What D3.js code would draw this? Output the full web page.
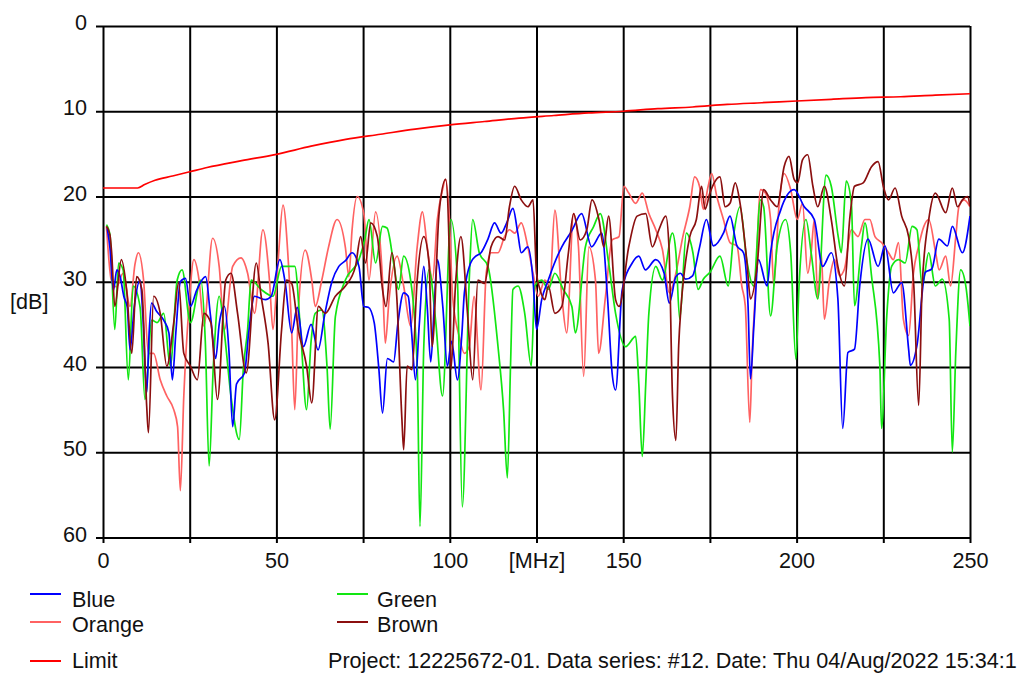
<!DOCTYPE html>
<html>
<head>
<meta charset="utf-8">
<script src="https://cdn.jsdelivr.net/npm/d3@7/dist/d3.min.js"></script>
<style>
  html, body { margin: 0; padding: 0; background: #fff; }
  svg { display: block; }
  text { font-family: "Liberation Sans", Arial, sans-serif; fill: #111; }
</style>
</head>
<body>
<svg id="chart" width="1021" height="674"></svg>
<script>
// ---------- data ----------
const yTicks = [0, 10, 20, 30, 40, 50, 60];
const xTicks = [0, 25, 50, 75, 100, 125, 150, 175, 200, 225, 250];
const xLabels = ["0", "", "50", "", "100", "[MHz]", "150", "", "200", "", "250"];
const yUnit = "[dB]";
const footer = "Project: 12225672-01. Data series: #12. Date: Thu 04/Aug/2022 15:34:1";

const seriesNames = ["Blue", "Green", "Orange", "Brown", "Limit"];
const seriesColors = ["#0000ff", "#12e612", "#ff6262", "#8b0f0f", "#ff0000"];

const limit = [[0,19],[10,19],[12,18.6],[15,18.1],[20,17.6],[25,17.1],[30,16.6],[40,15.8],[50,15.05],[60,14.1],[70,13.3],[80,12.7],[90,12.1],[100,11.6],[110,11.2],[120,10.8],[130,10.5],[140,10.2],[150,10],[160,9.7],[170,9.5],[180,9.2],[190,9.0],[200,8.8],[210,8.6],[220,8.4],[230,8.3],[240,8.1],[250,7.95]];

const blue = [[1.2,23.7],[2,26],[3,31],[4,28.6],[5,29.5],[6,31.7],[7,33],[7.8,38],[9,33],[10.7,29.8],[11.5,34],[12.6,43],[13.3,36],[14,32.5],[15.5,33.5],[17.5,34.5],[19,36],[20,41.5],[21,36],[22.3,30],[23.8,29.6],[25.2,32.9],[27,31],[29.6,29.4],[31,34],[32.5,39],[33.5,35],[35,32.9],[36.3,38],[37.4,47],[38.5,42],[40.8,40.7],[42,36],[43.7,31.7],[46.8,32.1],[48.5,31.7],[51,27.4],[52.5,30],[54.4,36],[56,33],[57.8,37.6],[60,35],[62,38],[64,33.7],[66,30],[68,28.2],[70,27.5],[71.8,26.6],[73.8,28.2],[75.2,32.9],[76.5,33],[78.2,34.8],[79.5,40],[80.6,45.4],[82,39],[83.8,39.4],[85,35],[86.7,31.3],[88,31.7],[89,36],[90.1,41.5],[91.2,35],[92.5,28.2],[93.5,33],[94.5,39.4],[95.5,33],[96.4,27.4],[98,33],[99.3,39.9],[100.5,37],[102.2,41.5],[103.5,36],[104.2,31.3],[106,27.8],[107.5,27],[109,26.6],[111,25],[112.9,23.1],[114.8,24.3],[116.5,23],[118.2,21.4],[119.6,24.3],[120.6,26.6],[122.5,25.9],[124,29.8],[125,35.6],[126.5,32.1],[128.4,29.8],[130,28],[132.3,25.9],[135.2,24],[138,22],[140.9,25.9],[143.8,24.3],[145.5,32],[146.8,40.7],[147.8,42.7],[149.7,31],[152.6,27.8],[154.5,27],[156.4,28.6],[159.4,27.4],[161.8,29],[163.3,32.5],[165.2,29.4],[166.5,29],[168,29.7],[170,29.3],[172,26],[174,22.7],[176,25.8],[178.9,24.3],[180.8,22.3],[182.8,25.8],[184.7,26.6],[186,32.8],[186.7,41.4],[187.7,35],[189,27.4],[191.5,30.5],[192.5,26.6],[195.4,21.6],[199.3,19.2],[202.2,21.2],[205.1,22.7],[207.5,28.2],[210,26.6],[211.9,32],[213.3,47.2],[214.8,38.3],[216.7,37.9],[218.2,30.5],[220.6,25],[223.5,28.2],[225.5,25.8],[227.9,31.3],[230.3,30.1],[232.3,37.9],[232.8,39.8],[234.7,37.5],[237.1,28.9],[239,28.5],[241,25],[243.5,25.8],[244.9,23.5],[247.8,26.6],[250,22.3]];

const green = [[1,23.3],[2,24.5],[3.4,35.6],[4.5,27.8],[5.8,28.6],[7.3,41.5],[8.7,30.5],[10.7,33],[12.1,43.8],[14.1,34.5],[15.6,34.8],[17.5,33.7],[19.4,39.9],[21.4,29.8],[22.8,28.6],[25.2,34.8],[28.2,29.8],[29.5,37],[30.6,51.6],[31.8,40],[33.5,31.7],[35,36],[36.9,43.4],[39.3,48.5],[40.5,40],[41.7,35.6],[42.7,29.8],[45.6,30.9],[49,31.7],[51.5,28.2],[55.3,28.2],[57,36],[58.7,45],[60,37],[61.2,33.7],[63.1,33.3],[64.6,40],[65.5,47.3],[67,34.1],[69.9,29.8],[73.8,27.4],[75.5,25],[76.7,22.7],[78.6,27.8],[80.6,23.5],[81.9,23.7],[83.8,27.8],[85.2,30.9],[86.7,27],[88.7,29.8],[90.6,39.9],[91.4,58.7],[92.5,37.6],[94,28.6],[95.9,34.5],[97.9,43.4],[100.3,22.7],[102.2,29.8],[103.6,56.4],[105.6,29.8],[106.6,22.7],[108.5,26.6],[111,28.2],[113.9,37.6],[115.5,45],[116.6,53],[117.5,40],[118.2,30.9],[119.7,30.5],[121.6,33.7],[123.5,39.9],[124.5,30.5],[126.5,29.8],[128.4,30.9],[130.3,29],[132.7,30.9],[135.2,32.9],[136.2,36],[139.1,25.9],[141.5,23.5],[143.4,22],[145.8,27.8],[147.8,33.7],[150.7,37.6],[153.6,36.4],[154.5,42],[155.5,50.5],[156.5,42],[157.4,33.7],[159.4,28.2],[161.3,29.8],[164.2,24.3],[165.2,26.6],[166.3,34.4],[168.2,24.3],[170.1,26.6],[171.6,30.9],[173.1,29.7],[175,28.9],[177.9,27],[180.3,30.5],[181.8,24.7],[183.7,21.2],[185.6,27.4],[187.6,30.5],[189.6,20.4],[190.5,21.2],[192.5,34],[194.4,25.8],[196.8,22.7],[198.3,26.6],[199.8,39.1],[200.7,30.5],[202.7,22.7],[204.2,26.6],[206.1,32],[208.5,17.5],[210,18.8],[212,24.7],[212.9,26.6],[214.3,18.2],[215.8,20.8],[216.7,32.8],[218.7,25.8],[219.7,23.1],[221.6,29.3],[224,39.8],[224.5,47.2],[226,34],[227.4,28.2],[229.4,27.4],[231.3,27.8],[233.3,23.5],[234.7,23.9],[236.2,30.5],[238.1,26.6],[240,30.5],[242,29.7],[244,34.4],[244.9,50],[245.9,38.3],[247.3,28.6],[248.8,30.5],[250,35.2]];

const orange = [[1,23.5],[2.4,29.8],[3.9,30.6],[5.8,29],[7.8,32.9],[9.2,28],[10.2,26.6],[11.7,29.8],[13.1,38.4],[14.6,38.4],[16.5,41.5],[18.4,43.4],[20.4,45],[21.5,47],[22.3,54.5],[23.3,43.4],[24.8,32.9],[26.2,27.4],[27.7,29.8],[29.1,35.2],[31.6,24.9],[33.5,28.2],[35,35.6],[37.4,28.2],[39.8,27.2],[41.7,29],[43.7,33.7],[46.1,23.9],[48,29.8],[49,35.6],[50.5,27.5],[51.9,21],[53.4,27.4],[54.4,35.6],[55.3,45],[56.3,33.7],[58.3,26.3],[60.2,29.8],[61.2,32.9],[63.1,29.8],[65,26],[67.5,22.7],[69.9,26],[70.9,29.4],[71.8,24],[73.3,20],[75.2,22],[76.7,29.8],[78.6,21.8],[80.6,29.8],[81.4,37.2],[82.5,32],[84.8,27],[86.7,30.5],[88.7,35.2],[90.6,25.9],[92.1,21.8],[93.5,25.9],[95,29.8],[96.4,22.7],[97.9,19.2],[98.8,18],[99.8,22],[100.8,31.7],[102.7,36.4],[104.2,38.4],[105.6,37.6],[107,31.7],[109,42.7],[110.5,29],[111.9,26.6],[113.9,26.6],[115.8,24.7],[117.2,23.9],[118.7,24.3],[120.6,23.1],[122.5,25.9],[124,29],[125.5,31.7],[127.4,29.8],[128.8,30.5],[130.3,21.6],[132.3,31.7],[133.7,36],[135.7,22],[137.1,25.9],[138.6,41.1],[140.1,25.9],[142,29.8],[142.9,38.4],[144.9,31.7],[146.8,25.1],[148.8,24.7],[150.2,18.8],[151.6,19.6],[153.6,20.8],[155.5,19.6],[157.4,22],[159.4,23.9],[161.3,26.2],[163.3,31.3],[164.8,29.7],[167.2,24.7],[169.2,21.2],[170.6,17.7],[172,18.8],[173.1,21.5],[174.5,18.8],[175.5,17.3],[177,20],[178.9,22.7],[180.8,25.4],[182.8,25.8],[184.2,30.5],[185.2,32.8],[186.5,46.5],[187.2,38.3],[188.1,31.3],[189.6,19.2],[191,19.6],[192.5,22.7],[193.4,30.5],[194.9,21.2],[196.4,17.3],[198.3,19.2],[200.2,22.7],[201.7,20.8],[203.2,29],[204.2,26.6],[205.1,22.7],[206.1,32],[207.1,26.6],[208,34.4],[209.5,29.7],[210.9,27.4],[212.4,29.3],[213.8,28.5],[215.8,23.9],[217.7,24.7],[219.7,22.7],[221.1,22.7],[222.6,24.7],[224.5,25.4],[226.5,26.6],[227.9,27.4],[229.4,25.4],[230.8,34.4],[232.3,36.3],[233.7,29],[235.2,25.8],[236.7,23.5],[238.1,22.7],[240.1,26.6],[241.1,28.6],[243,27],[244.4,30.5],[245.9,24.7],[246.8,21.2],[248.3,20.4],[250,21.2]];

const brown = [[1,23.5],[2,24.5],[2.5,26.6],[3.4,32.9],[5.3,27.4],[6.8,30.9],[8.3,38.4],[9.7,29.4],[11.2,30.9],[12.6,44.6],[13.1,47.7],[14.6,31.7],[16.5,33.7],[18.4,39.9],[20.4,34.8],[21.8,30.1],[23.3,38.4],[25.2,39.9],[27.2,41.5],[29.1,33.7],[31.1,34.8],[33,43.8],[35.4,29.8],[36.9,29],[38.8,33.7],[41.3,40.7],[44.2,27.8],[45.6,31.7],[47.6,37.2],[49.5,46.2],[51.5,35.6],[52.9,29.8],[54.4,30.2],[56.3,35.6],[58.7,39.9],[60.2,44.2],[62.1,32.9],[64.1,33.7],[67,31.7],[69.9,30.5],[72.8,28.2],[74.3,24.7],[75.7,27.8],[77.2,23.1],[79.1,24.7],[80.6,30.9],[81.6,32.9],[83.3,26.6],[84.7,31.7],[86.2,46.2],[86.7,49.7],[87.7,39.9],[89.1,40.3],[90.6,29.8],[92.5,24.7],[94,27.8],[94.9,37.6],[96.9,22],[98.8,18],[99.8,25.9],[100.3,40.3],[101.7,30],[103.2,24.7],[105.1,33.7],[106.6,41.5],[108.1,29.8],[110,30.2],[111.9,25.9],[113.9,24.7],[115.8,25.1],[117.2,21.2],[118.7,18.8],[120.6,20.4],[122.5,21.2],[124,20.4],[125,29],[126,30.9],[127.4,32.1],[128.4,30.5],[130.3,33.7],[132.3,32.9],[134.2,26.6],[135.7,22],[137.6,25.1],[139.5,23.9],[141,20.4],[143,22.7],[144.4,25.9],[145.8,22.3],[147.8,32.1],[148.8,32.9],[151.6,25.9],[154,22.3],[156.5,22],[158.4,25.9],[160.3,23.9],[162.3,22.3],[163.2,25.9],[164.2,43.3],[165.2,48.6],[166,37.5],[166.7,32.8],[167.7,28.6],[169.2,24.7],[171.1,22.7],[172.6,18.8],[173.6,21.5],[175,19.6],[177.9,17.7],[179.4,21.2],[180.8,20.8],[182.3,18.4],[183.7,20.8],[185.7,27.8],[186.7,32],[188.6,28.2],[190.5,19.2],[192.5,20.4],[194.4,21.2],[196.4,16.5],[197.8,15.3],[199.3,18],[200.3,18.4],[201.7,15.7],[203.2,15.1],[204.7,18.8],[206.1,21.2],[208,18.8],[210,22.7],[211.9,28.2],[213.8,30.5],[215.3,22.7],[216.7,18.8],[219.2,18.4],[221.6,16.5],[223.5,15.9],[225,18.8],[226.5,20.4],[228.4,19],[230.3,22.3],[232.3,24.7],[233.8,30.5],[235.2,44.5],[236.2,30.5],[238.1,22.7],[240,19.6],[243,21.9],[244.9,19],[246.4,21.2],[247.8,20.4],[249.3,20],[250,21.2]];

// ---------- drawing ----------
const svg = d3.select("#chart");
svg.append("rect").attr("width", 1021).attr("height", 674).attr("fill", "#fff");

const x = d3.scaleLinear().domain([0, 250]).range([103, 970]);
const y = d3.scaleLinear().domain([0, 60]).range([26, 537.5]);
const FS = 21.6;
const FF = "'Liberation Sans', Arial, sans-serif";

// horizontal grid + y labels
const yAxis = d3.axisLeft(y).tickValues(yTicks).tickSizeInner(-(970 - 96)).tickSizeOuter(0).tickPadding(9);
const gy = svg.append("g").attr("transform", "translate(96,0)").call(yAxis);
gy.select(".domain").remove();
gy.selectAll(".tick line").attr("stroke", "#000").attr("stroke-width", 2);
gy.selectAll(".tick text").attr("font-size", FS).attr("dy", "0.17em").attr("fill", "#111")
  .style("font-family", FF);

// vertical grid + x labels
const xAxis = d3.axisBottom(x).tickValues(xTicks).tickSizeInner(-(543 - 26)).tickSizeOuter(0)
  .tickFormat((d, i) => xLabels[i]);
const gx = svg.append("g").attr("transform", "translate(0,543)").call(xAxis);
gx.select(".domain").remove();
gx.selectAll(".tick line").attr("stroke", "#000").attr("stroke-width", 2);
gx.selectAll(".tick text").attr("font-size", FS).attr("dy", null).attr("y", 25).attr("fill", "#111")
  .style("font-family", FF);

svg.append("text").attr("x", 10).attr("y", 309).attr("font-size", FS).text(yUnit);

// series
const mk = d3.line().x(d => x(d[0])).y(d => y(d[1])).curve(d3.curveMonotoneX);
svg.append("clipPath").attr("id", "pc").append("rect")
  .attr("x", 103).attr("y", 26).attr("width", 867).attr("height", 511.5);
const gS = svg.append("g").attr("clip-path", "url(#pc)");
const drawOrder = [[orange, 2], [green, 1], [blue, 0], [brown, 3], [limit, 4]];
drawOrder.forEach(([data, ci]) => {
  gS.append("path").datum(data).attr("d", mk).attr("fill", "none")
    .attr("stroke", seriesColors[ci]).attr("stroke-width", 1.7).attr("stroke-linejoin", "round");
});

// legend
const legendItems = [
  {i: 0, lx: 30, ly: 594, tx: 72, ty: 607},
  {i: 2, lx: 30, ly: 622, tx: 72, ty: 632},
  {i: 4, lx: 30, ly: 661, tx: 72, ty: 668},
  {i: 1, lx: 337, ly: 594, tx: 377, ty: 607},
  {i: 3, lx: 337, ly: 622, tx: 377, ty: 632}
];
const lg = svg.append("g");
legendItems.forEach(it => {
  lg.append("line").attr("x1", it.lx).attr("x2", it.lx + 31).attr("y1", it.ly).attr("y2", it.ly)
    .attr("stroke", seriesColors[it.i]).attr("stroke-width", 2);
  lg.append("text").attr("x", it.tx).attr("y", it.ty).attr("font-size", FS).text(seriesNames[it.i]);
});
svg.append("text").attr("x", 328).attr("y", 668).attr("font-size", FS).text(footer);
</script>
</body>
</html>
